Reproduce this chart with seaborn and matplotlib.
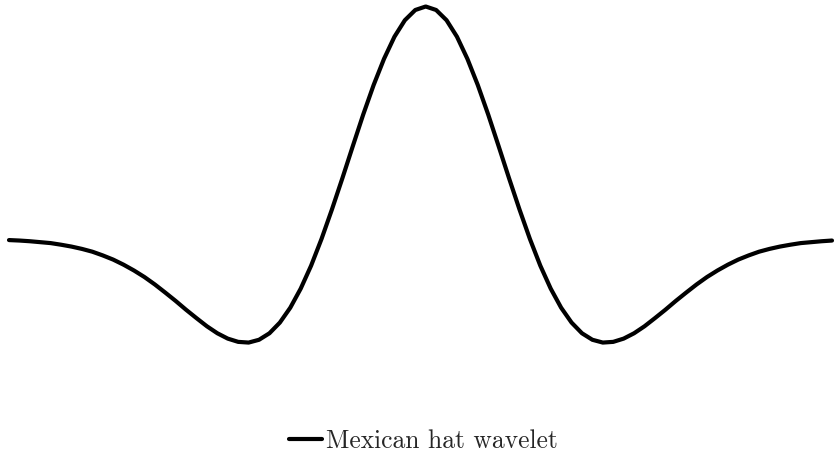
import matplotlib
matplotlib.use("Agg")
import matplotlib.pyplot as plt
import pandas as pd
import seaborn as sns

# Sample positions and wavelet amplitude
t = [
    -4.0, -3.9, -3.8, -3.7, -3.6, -3.5, -3.4, -3.3, -3.2, -3.1,
    -3.0, -2.9, -2.8, -2.7, -2.6, -2.5, -2.4, -2.3, -2.2, -2.1,
    -2.0, -1.9, -1.8, -1.7, -1.6, -1.5, -1.4, -1.3, -1.2, -1.1,
    -1.0, -0.9, -0.8, -0.7, -0.6, -0.5, -0.4, -0.3, -0.2, -0.1,
    0.0,
    0.1, 0.2, 0.3, 0.4, 0.5, 0.6, 0.7, 0.8, 0.9, 1.0,
    1.1, 1.2, 1.3, 1.4, 1.5, 1.6, 1.7, 1.8, 1.9, 2.0,
    2.1, 2.2, 2.3, 2.4, 2.5, 2.6, 2.7, 2.8, 2.9, 3.0,
    3.1, 3.2, 3.3, 3.4, 3.5, 3.6, 3.7, 3.8, 3.9,
]
amplitude = [
    -0.005, -0.007, -0.010, -0.014, -0.018, -0.025, -0.033, -0.043, -0.055, -0.071,
    -0.089, -0.111, -0.136, -0.164, -0.196, -0.231, -0.267, -0.305, -0.341, -0.376,
    -0.406, -0.429, -0.443, -0.446, -0.434, -0.406, -0.360, -0.296, -0.214, -0.115,
    0.000, 0.127, 0.261, 0.399, 0.535, 0.662, 0.775, 0.870, 0.941, 0.985,
    1.000,
    0.985, 0.941, 0.870, 0.775, 0.662, 0.535, 0.399, 0.261, 0.127, 0.000,
    -0.115, -0.214, -0.296, -0.360, -0.406, -0.434, -0.446, -0.443, -0.429, -0.406,
    -0.376, -0.341, -0.305, -0.267, -0.231, -0.196, -0.164, -0.136, -0.111, -0.089,
    -0.071, -0.055, -0.043, -0.033, -0.025, -0.018, -0.014, -0.010, -0.007,
]
series_name = "Mexican hat wavelet"

df = pd.DataFrame({"t": t, "psi": amplitude, "series": series_name})

sns.set_theme(style="white")
plt.rcParams["font.family"] = ["cmr10", "DejaVu Serif"]
plt.rcParams["axes.formatter.use_mathtext"] = True

fig = plt.figure(figsize=(8.34, 4.59), dpi=100)
ax = fig.add_axes([0, 0, 1, 1])

sns.lineplot(data=df, x="t", y="psi", hue="series", palette=["black"],
             linewidth=3.0, ax=ax, legend=True)

# 104.2 px per unit horizontally, curve spans pixels 9..832
ax.set_xlim(-4.0 - 9 / 104.2, 3.9 + 2 / 104.2)
ax.set_ylim(-0.947, 1.028)
ax.axis("off")

handles, labels = ax.get_legend_handles_labels()
ax.get_legend().remove()
fig.legend(handles, labels, loc="center", bbox_to_anchor=(423.5 / 834, 1 - 441 / 459),
           frameon=False, fontsize=18.4, handlelength=1.3, handletextpad=0.15,
           borderpad=0, borderaxespad=0)

fig.savefig("out.png", dpi=100, facecolor="white")
